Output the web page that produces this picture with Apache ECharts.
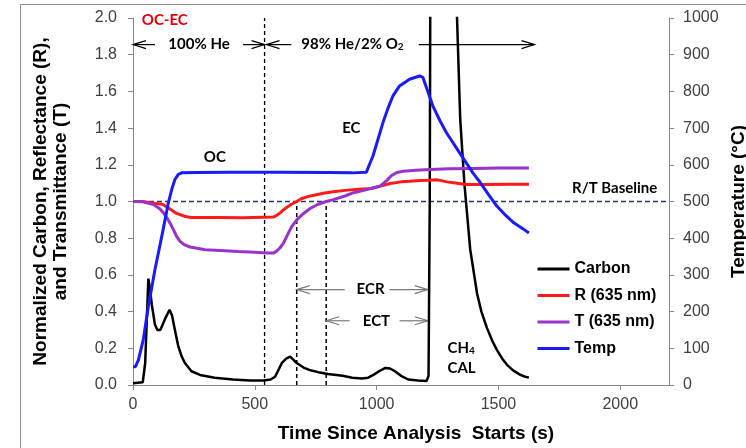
<!DOCTYPE html>
<html>
<head>
<meta charset="utf-8">
<script src="https://cdn.jsdelivr.net/npm/echarts@6/dist/echarts.min.js"></script>
<style>
  html, body { margin: 0; padding: 0; background: #fff; }
  #chart { width: 746px; height: 448px; }
</style>
</head>
<body>
<div id="chart"></div>
<script>
// [time (s), value]
const carbon = [
  [0, 0.01], [40, 0.015], [50, 0.12], [63, 0.58], [70, 0.52], [77, 0.44], [90, 0.33], [100, 0.3],
  [112, 0.3], [122, 0.33], [135, 0.37], [150, 0.41], [160, 0.38], [172, 0.3], [186, 0.21], [200, 0.155],
  [213, 0.12], [240, 0.075], [275, 0.055], [335, 0.04], [410, 0.03], [480, 0.025], [535, 0.025],
  [565, 0.03], [583, 0.045], [600, 0.09], [611, 0.12], [630, 0.145], [645, 0.155], [660, 0.135],
  [672, 0.12], [700, 0.095], [724, 0.082], [760, 0.07], [800, 0.06], [860, 0.05], [900, 0.04],
  [940, 0.035], [965, 0.04], [987, 0.055], [1010, 0.075], [1036, 0.093], [1055, 0.09], [1075, 0.075],
  [1100, 0.05], [1130, 0.03], [1170, 0.025], [1205, 0.022], [1213, 0.05], [1218, 1.0], [1222, 3.0],
  [1322, 3.0], [1330, 2.0], [1343, 1.45], [1360, 1.1], [1384, 0.74], [1398, 0.62], [1412, 0.5],
  [1430, 0.4], [1453, 0.31], [1475, 0.24], [1494, 0.19], [1515, 0.145], [1535, 0.11], [1560, 0.08],
  [1590, 0.055], [1610, 0.045], [1625, 0.04]
]
const reflectance = [
  [0, 1.0], [40, 1.0], [84, 0.99], [121, 0.985], [150, 0.96], [179, 0.935], [210, 0.92], [238, 0.913],
  [350, 0.913], [450, 0.912], [576, 0.915], [590, 0.925], [604, 0.938], [618, 0.955], [631, 0.968],
  [650, 0.985], [672, 1.0], [690, 1.015], [720, 1.028], [744, 1.034], [780, 1.045], [822, 1.053],
  [880, 1.062], [940, 1.068], [978, 1.071], [1020, 1.085], [1055, 1.098], [1100, 1.107], [1133, 1.11],
  [1180, 1.115], [1211, 1.116], [1250, 1.118], [1289, 1.107], [1330, 1.1], [1367, 1.093],
  [1450, 1.092], [1550, 1.094], [1625, 1.094]
]
const transmittance = [
  [0, 1.0], [40, 0.998], [84, 0.984], [110, 0.96], [125, 0.938], [140, 0.91], [155, 0.875], [166, 0.847],
  [179, 0.81], [193, 0.783], [210, 0.765], [234, 0.752], [296, 0.737], [357, 0.733], [432, 0.728],
  [500, 0.724], [549, 0.72], [578, 0.72], [590, 0.73], [605, 0.75], [618, 0.775], [631, 0.81],
  [650, 0.86], [672, 0.9], [700, 0.935], [727, 0.962], [760, 0.985], [793, 1.0], [822, 1.01],
  [870, 1.03], [905, 1.048], [939, 1.058], [987, 1.075], [1016, 1.085], [1042, 1.115], [1060, 1.14],
  [1083, 1.158], [1110, 1.165], [1160, 1.17], [1220, 1.175], [1300, 1.178], [1400, 1.18],
  [1500, 1.182], [1625, 1.183]
]
const temperature = [
  [0, 50], [10, 50], [22, 68], [42, 123], [63, 214], [90, 314], [118, 405], [145, 496], [160, 535],
  [172, 560], [186, 574], [200, 578], [260, 579], [400, 580], [600, 580], [800, 579], [900, 578],
  [958, 580], [970, 600], [985, 624], [1026, 715], [1050, 760], [1067, 788], [1094, 815], [1135, 833],
  [1176, 842], [1190, 838], [1210, 800], [1231, 760], [1260, 720], [1286, 688], [1340, 633],
  [1395, 578], [1426, 551], [1460, 518], [1494, 487], [1530, 462], [1563, 442], [1600, 426], [1625, 414]
]
const xTicks = [0, 500, 1000, 1500, 2000]
const legendNames = ['Carbon', 'R (635 nm)', 'T (635 nm)', 'Temp']

// annotation times (s)
const gasSwitch = 540
const ecrStart = 672
const ectStart = 793
const splitTime = 1210

const axisGray = '#868686'
const annoFont = 'Lato'

const chart = echarts.init(document.getElementById('chart'))

function hline(a, b, color, width, dash) {
  return {
    type: 'line',
    shape: { x1: a[0], y1: a[1], x2: b[0], y2: b[1] },
    style: { stroke: color, lineWidth: width, lineDash: dash || null, fill: 'none' },
  }
}

// line from x1 to x2 with an open chevron at x2
function arrow(api, x1, x2, y, color) {
  const a = api.coord([x1, y])
  const b = api.coord([x2, y])
  const dir = x2 > x1 ? 1 : -1
  return [
    hline(a, b, color, 1.2),
    {
      type: 'polyline',
      shape: { points: [[b[0] - dir * 13, b[1] - 4], b, [b[0] - dir * 13, b[1] + 4]] },
      style: { stroke: color, lineWidth: 1.2, fill: 'none' },
    },
  ]
}

function label(api, x, y, text, extra) {
  const p = api.coord([x, y])
  return {
    type: 'text',
    x: p[0],
    y: p[1],
    style: Object.assign({
      text: text,
      fill: '#000',
      fontSize: 15,
      fontWeight: 'bold',
      fontFamily: annoFont,
      align: 'center',
      verticalAlign: 'middle',
    }, extra || {}),
  }
}

function renderNotes(params, api) {
  if (params.dataIndex !== 0) return
  const gray = '#7a7a7a'
  let kids = []
  // baseline and dashed markers
  kids.push(hline(api.coord([0, 1]), api.coord([2200, 1]), '#1f3864', 1.5, [5, 3]))
  kids.push(hline(api.coord([gasSwitch, 0]), api.coord([gasSwitch, 2]), '#000', 1.3, [4, 3]))
  kids.push(hline(api.coord([ecrStart, 0]), api.coord([ecrStart, 1]), '#000', 1.5, [4, 3]))
  kids.push(hline(api.coord([ectStart, 0]), api.coord([ectStart, 1]), '#000', 1.5, [4, 3]))
  // carrier gas arrows
  kids = kids.concat(arrow(api, 90, 0, 1.855, '#000'))
  kids = kids.concat(arrow(api, 452, gasSwitch, 1.855, '#000'))
  kids = kids.concat(arrow(api, 650, gasSwitch + 8, 1.855, '#000'))
  kids = kids.concat(arrow(api, 1173, 1648, 1.855, '#000'))
  kids.push(label(api, 271, 1.855, '100% He'))
  kids.push(label(api, 691, 1.855, '98% He/2% O{s|2}', {
    align: 'left',
    rich: { s: { fontSize: 10, fontWeight: 'bold', fontFamily: annoFont, verticalAlign: 'bottom' } },
  }))
  kids.push(label(api, 36, 1.99, 'OC-EC', { align: 'left', fill: '#e8000b' }))
  kids.push(label(api, 336, 1.24, 'OC'))
  kids.push(label(api, 896, 1.40, 'EC'))
  kids.push(label(api, 2152, 1.075, 'R/T Baseline', { align: 'right' }))
  // ECR / ECT split arrows
  kids = kids.concat(arrow(api, 869, ecrStart, 0.52, gray))
  kids = kids.concat(arrow(api, 1053, splitTime, 0.52, gray))
  kids.push(label(api, 975, 0.52, 'ECR'))
  kids = kids.concat(arrow(api, 889, ectStart, 0.35, gray))
  kids = kids.concat(arrow(api, 1094, splitTime, 0.35, gray))
  kids.push(label(api, 999, 0.35, 'ECT'))
  kids.push(label(api, 1291, 0.2, 'CH{s|4}', {
    align: 'left',
    rich: { s: { fontSize: 10, fontWeight: 'bold', fontFamily: annoFont, verticalAlign: 'bottom' } },
  }))
  kids.push(label(api, 1291, 0.09, 'CAL', { align: 'left' }))
  return { type: 'group', children: kids }
}

const tickLabel = { color: '#404040', fontSize: 16, fontFamily: 'Liberation Sans' }
const axisName = { color: '#000', fontSize: 19, fontWeight: 'bold', fontFamily: 'Liberation Sans' }
const plain = (v) => String(v)

const option = {
  animation: false,
  backgroundColor: '#fff',
  graphic: [
    {
      type: 'rect',
      left: 18,
      top: 2,
      shape: { width: 800, height: 500 },
      style: { fill: 'none', stroke: '#8c8c8c', lineWidth: 1 },
      silent: true,
    },
  ],
  grid: { left: 133, right: 77, top: 18, bottom: 63, containLabel: false, outerBoundsMode: 'none' },
  legend: {
    data: legendNames,
    orient: 'vertical',
    left: 536,
    top: 261,
    padding: 0,
    itemWidth: 32,
    itemHeight: 16,
    itemGap: 10.5,
    itemStyle: { color: 'rgba(0,0,0,0)', borderWidth: 0 },
    lineStyle: { width: 3 },
    textStyle: { color: '#000', fontSize: 16, fontWeight: 'bold', fontFamily: 'Liberation Sans' },
  },
  xAxis: {
    type: 'value',
    min: 0,
    max: 2200,
    axisLine: { show: true, lineStyle: { color: axisGray } },
    axisTick: { show: true, length: 5, customValues: xTicks, lineStyle: { color: axisGray } },
    axisLabel: Object.assign({ customValues: xTicks, margin: 12, formatter: plain }, tickLabel),
    splitLine: { show: false },
    name: 'Time Since Analysis  Starts (s)',
    nameLocation: 'middle',
    nameGap: 39,
    nameTextStyle: Object.assign({ padding: [0, 0, 0, 30] }, axisName),
  },
  yAxis: [
    {
      type: 'value',
      min: 0,
      max: 2,
      interval: 0.2,
      axisLine: { show: true, lineStyle: { color: axisGray } },
      axisTick: { show: true, length: 5, lineStyle: { color: axisGray } },
      axisLabel: Object.assign({ margin: 16, formatter: (v) => v.toFixed(1) }, tickLabel),
      splitLine: { show: false },
      name: 'Normalized Carbon, Reflectance (R),\nand Transmittance (T)',
      nameLocation: 'middle',
      nameRotate: 90,
      nameGap: 62,
      nameTextStyle: Object.assign({ lineHeight: 20 }, axisName),
    },
    {
      type: 'value',
      position: 'right',
      min: 0,
      max: 1000,
      interval: 100,
      axisLine: { show: true, lineStyle: { color: axisGray } },
      axisTick: { show: true, length: 5, lineStyle: { color: axisGray } },
      axisLabel: Object.assign({ margin: 14, formatter: plain }, tickLabel),
      splitLine: { show: false },
      name: 'Temperature (°C)',
      nameLocation: 'middle',
      nameRotate: 90,
      nameGap: 52,
      nameTextStyle: axisName,
    },
  ],
  series: [
    {
      type: 'custom',
      silent: true,
      renderItem: renderNotes,
      data: [[0, 0]],
      clip: false,
    },
    {
      name: 'Carbon',
      type: 'line',
      data: carbon,
      symbol: 'none',
      lineStyle: { color: '#000', width: 2.5 },
      itemStyle: { color: '#000' },
    },
    {
      name: 'R (635 nm)',
      type: 'line',
      data: reflectance,
      symbol: 'none',
      lineStyle: { color: '#ff1a1a', width: 3 },
      itemStyle: { color: '#ff1a1a' },
    },
    {
      name: 'T (635 nm)',
      type: 'line',
      data: transmittance,
      symbol: 'none',
      lineStyle: { color: '#9933cc', width: 3 },
      itemStyle: { color: '#9933cc' },
    },
    {
      name: 'Temp',
      type: 'line',
      yAxisIndex: 1,
      data: temperature,
      symbol: 'none',
      lineStyle: { color: '#1a1aff', width: 3 },
      itemStyle: { color: '#1a1aff' },
    },
  ],
}

chart.setOption(option)
</script>
</body>
</html>
